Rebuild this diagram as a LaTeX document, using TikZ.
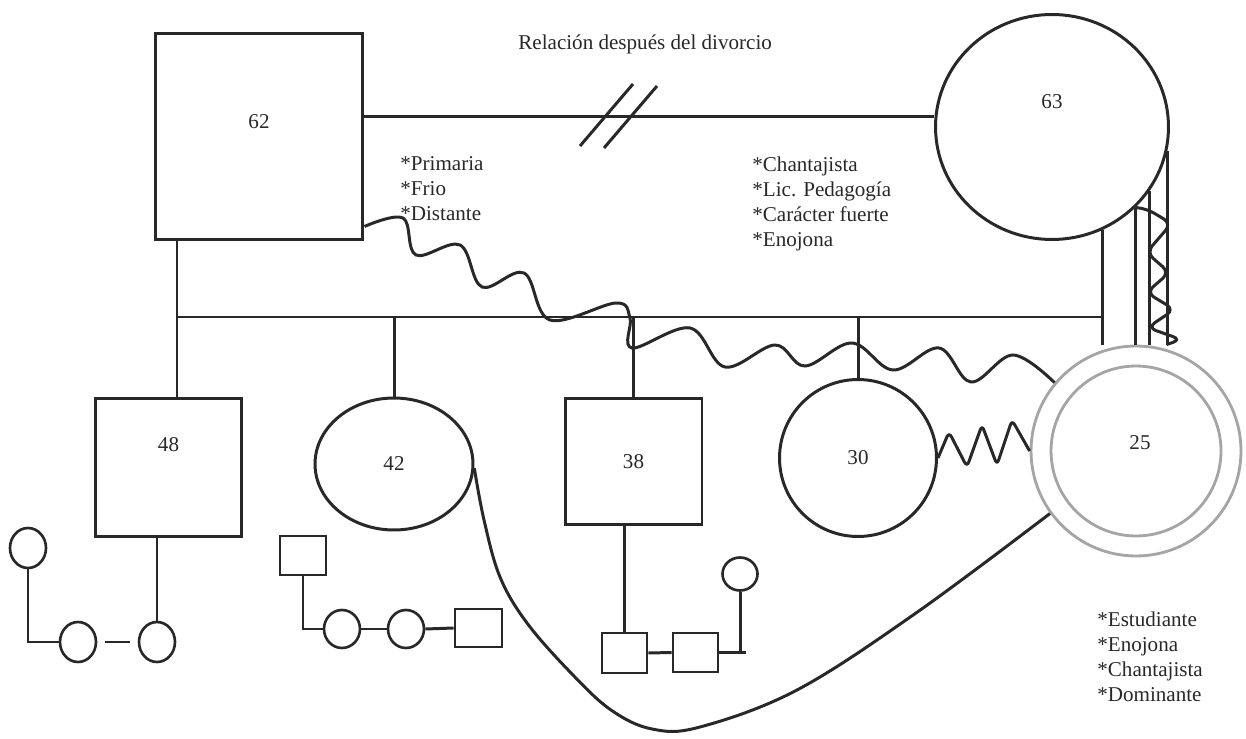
\documentclass[tikz,border=0pt]{standalone}
\usepackage{fontspec}
\setmainfont{Liberation Serif}
\usetikzlibrary{positioning,shapes.geometric,calc}
\definecolor{ink}{RGB}{40,40,40}
\definecolor{ring}{RGB}{165,165,165}

\begin{document}
\begin{tikzpicture}[x=0.02cm,y=-0.02cm,
  ln/.style={draw=ink,line width=1.7pt},
  male/.style={rectangle,ln,inner sep=0pt,font=\fontsize{12}{14}\selectfont,text=ink},
  female/.style={ellipse,ln,inner sep=0pt,font=\fontsize{12}{14}\selectfont,text=ink},
  gm/.style={male,line width=1.5pt,minimum width=.92cm,minimum height=.78cm},
  gf/.style={female,line width=1.5pt,minimum width=.72cm,minimum height=.8cm},
  twin/.style={circle,draw=ring,line width=1.6pt,inner sep=0pt},
  num/.style={font=\fontsize{12}{14}\selectfont,text=ink,inner sep=0pt},
  note/.style={align=left,anchor=north west,inner sep=0pt,text=ink,
    font=\fontsize{12}{14.2}\selectfont}
]
\useasboundingbox (0,0) rectangle (1246,739);

% parents
\node[male,minimum width=4.16cm,minimum height=4.14cm,
  label={[num,yshift=.29cm]center:62}] (p62) at (259,136.5) {};
\node[female,minimum width=4.66cm,minimum height=4.5cm,
  label={[num,yshift=.5cm]center:63}] (p63) at (1052,127) {};

% children
\node[male,minimum width=2.94cm,minimum height=2.78cm,
  label={[num,yshift=.45cm]center:48}] (c48) at (168.5,467.5) {};
\node[female,minimum width=3.16cm,minimum height=2.64cm] (c42) at (394,464) {42};
\node[male,minimum width=2.74cm,minimum height=2.54cm] (c38) at (633.5,461.5) {38};
\node[female,minimum width=3.14cm,minimum height=3.14cm] (c30) at (858,458) {30};
\node[twin,minimum size=4.2cm,
  label={[num,xshift=.08cm,yshift=.16cm]center:25}] (c25) at (1136,451) {};
\node[twin,minimum size=3.4cm] (c25i) at (c25) {};

% grandchildren
\node[gf] (g1) at (28,548) {};
\node[gf] (g2) at (78,642) {};
\node[gf] (g3) at (157,642) {};
\node[gm] (g4) at (303,555.5) {};
\node[gf,minimum height=.76cm] (g5) at (342,629) {};
\node[gf,minimum height=.76cm] (g6) at (406,629) {};
\node[gm,minimum width=.94cm,minimum height=.76cm] (g7) at (478.5,628) {};
\node[gm,minimum width=.9cm,minimum height=.8cm] (g8) at (624.5,653) {};
\node[gm,minimum width=.9cm,minimum height=.78cm] (g9) at (695.5,652.5) {};
\node[gf,minimum width=.7cm,minimum height=.66cm] (g10) at (740,574) {};

% notes
\node[note,anchor=west] (rel) at (518,44) {Relación después del divorcio};
\node[note] (n62) at (400,156) {*Primaria\\*Frio\\*Distante};
\node[note] (n63) at (752,157) {*Chantajista\\*Lic. Pedagogía\\*Carácter fuerte\\*Enojona};
\node[note] (n25) at (1097,612) {*Estudiante\\*Enojona\\*Chantajista\\*Dominante};

% marriage and divorce
\coordinate (m) at ([yshift=.4cm]p62.east);
\draw[ln] (m) -- (m -| p63.west);
\coordinate (dv) at (606,116);
\draw[ln] (dv) ++(-26,30) -- ++(53,-62);
\draw[ln] (dv) ++(-2,32) -- ++(53,-62);

% sibling line
\coordinate (sL) at (177,317);
\coordinate (sR) at (1103,317);
\draw[ln] (sL) -- (sR);
\draw[ln] (sL |- p62.south) -- (sL |- c48.north);
\draw[ln] (c42.north) -- (c42.north |- sL);
\draw[ln] (c38.north) -- (c38.north |- sL);
\draw[ln] (c30.north) -- (c30.north |- sL);
\foreach \a in {-64,-44,-33,-12}
  \draw[ln] (p63.\a) -- (p63.\a |- c25.north);

% coil 63 - 25
\draw[ln,rounded corners=5pt] (p63.-44) -- ++(11,1) -- ++(25,15) -- ++(-25,29)
  -- ++(23,20) -- ++(-23,20) -- ++(28,17) -- ++(-27,18) -- ++(34,12) -- ++(-15,5);

% zigzag 30 - 25
\draw[ln,rounded corners=3pt] (c30.east) -- ++(11,-26) -- ++(18,35) -- ++(15,-42)
  -- ++(15,40) -- ++(15,-45) -- (c25.west);

% wave 62 - 25
\draw[ln] plot[smooth,tension=.6] coordinates {([yshift=.3cm]p62.south east)
  (403,218) (416,255) (460,245) (482,287) (524,273) (550,320) (616,303)
  (630,318) (632,348) (690,328) (725,367) (775,345) (805,366) (852,343)
  (893,370) (939,348) (971,382) (1013,355) (c25.140)};

% curve 42 - 25
\draw[ln] plot[smooth,tension=.6] coordinates {(c42.-3) (484,520) (500,577)
  (527,623) (571,673) (611,710) (652,729) (700,727) (797,690) (916,613) (c25.216)};

% grandchildren links
\draw[ln] (g3.north |- c48.south) -- (g3.north);
\draw[ln] (g1.south) |- (g2.west);
\draw[ln] ($(g2.east)!.2!(g3.west)$) -- ($(g2.east)!.8!(g3.west)$);
\draw[ln] (g4.south) |- (g5.west);
\draw[ln] (g5.east) -- (g6.west);
\draw[ln] (g6.east) -- (g7.west);
\draw[ln] (c38.south -| g8.north) -- (g8.north);
\draw[ln] (g8.east) -- (g9.west);
\draw[ln] (g9.east) -- ++(27,0);
\draw[ln] (g10.south) -- (g10.south |- g9.east);
\end{tikzpicture}
\end{document}
